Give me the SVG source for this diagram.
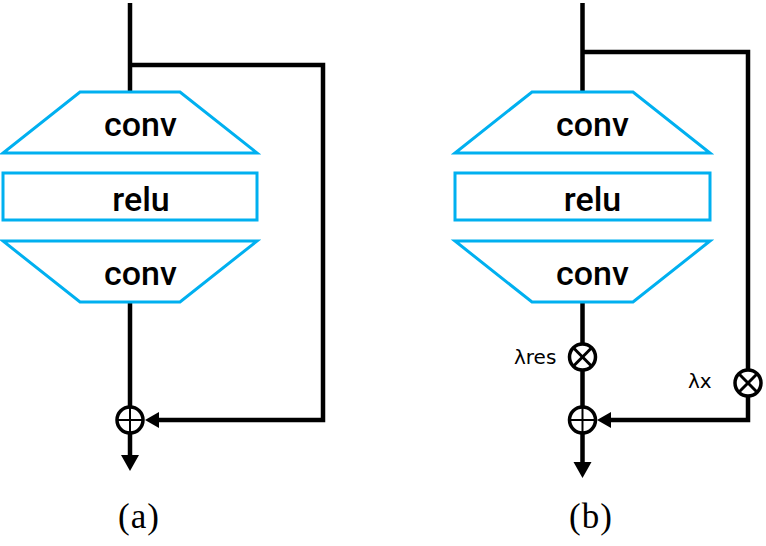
<svg xmlns="http://www.w3.org/2000/svg" width="766" height="546" viewBox="0 0 766 546">
<style>
.blk{fill:#fff;stroke:#00B0F0;stroke-width:3;stroke-linejoin:miter}
.lbl{font-family:Roboto,"Noto Sans","Liberation Sans",sans-serif;font-weight:500;font-size:34px;text-anchor:middle;fill:#000}
.wire{fill:none;stroke:#000;stroke-width:4.5;stroke-linejoin:miter;stroke-linecap:butt}
.op{fill:#fff;stroke:#000;stroke-width:3.5}
.opl{stroke:#000;stroke-width:2}
.opx{stroke:#000;stroke-width:3}
.cap{font-family:"Liberation Serif","Times New Roman",serif;font-size:35px;text-anchor:middle;fill:#000;letter-spacing:1px}
.lam{font-family:"DejaVu Sans","Liberation Sans",sans-serif;font-size:20px;fill:#000}
.head{fill:#000}
</style>
<g id="connectors">
  <path class="wire" d="M130,3 V92"/>
  <path class="wire" d="M130,65 H323 V420 H157"/>
  <path class="wire" d="M130,302 V456"/>
  <polygon class="head" points="145,420 159,412 159,428"/>
  <polygon class="head" points="121,455 139,455 130,471"/>
  <path class="wire" d="M582.5,3 V92"/>
  <path class="wire" d="M582.5,52 H748 V420 H609"/>
  <path class="wire" d="M582.5,302 V463"/>
  <polygon class="head" points="597,420 611,412 611,428"/>
  <polygon class="head" points="573.5,462 591.5,462 582.5,478"/>
</g>
<g id="a-conv1"><polygon class="blk" points="80,92 180,92 257,153 3,153"/><text class="lbl" x="140.5" y="136">conv</text></g>
<g id="a-relu"><rect class="blk" x="3" y="173" width="254" height="47"/><text class="lbl" x="141" y="211">relu</text></g>
<g id="a-conv2"><polygon class="blk" points="3,241 257,241 180,302 80,302"/><text class="lbl" x="140.5" y="285">conv</text></g>
<g id="a-add"><circle class="op" cx="130" cy="420" r="13"/><line class="opl" x1="117" y1="420" x2="143" y2="420"/><line class="opl" x1="130" y1="407" x2="130" y2="433"/></g>
<g id="a-caption"><text class="cap" x="139" y="528">(a)</text></g>
<g id="b-conv1"><polygon class="blk" points="532,92 633,92 710,153 455,153"/><text class="lbl" x="592.5" y="136">conv</text></g>
<g id="b-relu"><rect class="blk" x="455" y="173" width="255" height="47"/><text class="lbl" x="592.5" y="211">relu</text></g>
<g id="b-conv2"><polygon class="blk" points="455,241 710,241 633,302 532,302"/><text class="lbl" x="592.5" y="285">conv</text></g>
<g id="b-mulres"><circle class="op" cx="582.5" cy="357" r="13"/><line class="opx" x1="573.3" y1="347.8" x2="591.7" y2="366.2"/><line class="opx" x1="591.7" y1="347.8" x2="573.3" y2="366.2"/><text class="lam" x="514" y="364">λres</text></g>
<g id="b-mulx"><circle class="op" cx="748" cy="383" r="13"/><line class="opx" x1="738.8" y1="373.8" x2="757.2" y2="392.2"/><line class="opx" x1="757.2" y1="373.8" x2="738.8" y2="392.2"/><text class="lam" x="688" y="388">λx</text></g>
<g id="b-add"><circle class="op" cx="582.5" cy="420" r="13"/><line class="opl" x1="569.5" y1="420" x2="595.5" y2="420"/><line class="opl" x1="582.5" y1="407" x2="582.5" y2="433"/></g>
<g id="b-caption"><text class="cap" x="591" y="528">(b)</text></g>
</svg>
